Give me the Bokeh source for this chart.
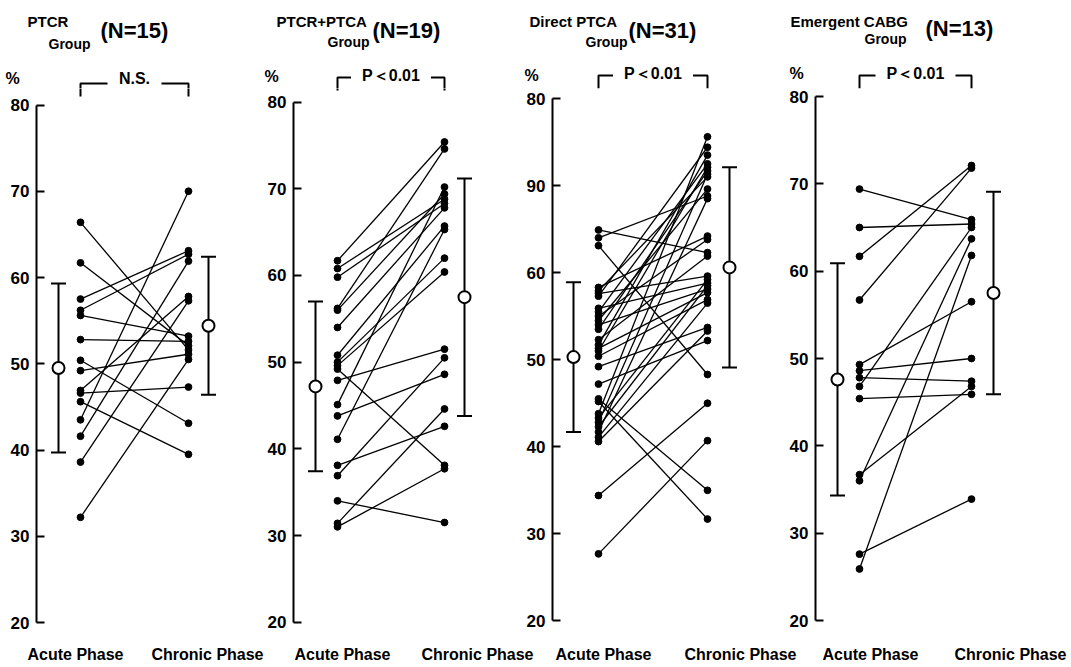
from bokeh.plotting import figure
from bokeh.layouts import row, column
from bokeh.models import Range1d, FixedTicker, Whisker, TeeHead, ColumnDataSource
from bokeh.embed import file_html
from bokeh.resources import INLINE
from bokeh.core.properties import value

# ---------------- data ----------------
group_names = ["PTCR", "PTCR+PTCA", "Direct PTCA", "Emergent CABG"]
group_word = "Group"
n_labels = ["(N=15)", "(N=19)", "(N=31)", "(N=13)"]
sig_labels = ["N.S.", "P＜0.01", "P＜0.01", "P＜0.01"]
phase_labels = ["Acute Phase", "Chronic Phase"]
y_label = "%"

tick_values = [20, 30, 40, 50, 60, 70, 80]
tick_labels = [
    ["20", "30", "40", "50", "60", "70", "80"],
    ["20", "30", "40", "50", "60", "70", "80"],
    ["20", "30", "40", "50", "60", "90", "80"],
    ["20", "30", "40", "50", "60", "70", "80"],
]

ptcr_acute = [66.4, 61.7, 57.5, 56.2, 55.6, 52.8, 50.4, 49.2, 46.9, 46.6, 45.6, 43.5, 41.6, 38.6, 32.2]
ptcr_chronic = [51.6, 52.1, 63.1, 62.7, 53.2, 52.6, 43.1, 51.1, 57.8, 47.3, 39.5, 70.0, 61.9, 57.3, 50.5]

ptca_acute = [61.7, 60.8, 59.8, 56.2, 56.0, 54.0, 50.8, 50.0, 49.6, 49.2, 47.9, 45.1, 43.8, 41.1,
              38.1, 36.9, 34.0, 31.4, 31.0]
ptca_chronic = [75.4, 68.8, 68.3, 74.6, 69.4, 67.8, 65.7, 62.0, 60.4, 38.1, 51.5, 70.2, 48.6, 65.3,
                42.6, 50.5, 31.5, 44.6, 37.7]

direct_acute = [64.9, 64.0, 63.1, 58.3, 57.9, 57.6, 57.3, 55.9, 55.5, 55.0, 54.5, 54.0, 53.5, 52.3,
                51.7, 51.3, 51.0, 50.4, 49.2, 47.2, 45.5, 45.2, 43.8, 43.3, 42.8, 42.3, 41.7, 41.1,
                40.6, 34.4, 27.7]
direct_chronic = [62.3, 68.8, 48.3, 64.2, 71.0, 59.6, 74.4, 58.8, 72.5, 63.8, 69.6, 58.1, 71.7, 61.9,
                  73.5, 57.7, 72.1, 56.9, 53.7, 52.2, 35.0, 31.7, 75.6, 59.2, 71.3, 58.5, 68.5, 56.5,
                  53.3, 45.0, 40.7]

cabg_acute = [69.4, 65.0, 61.7, 56.7, 49.3, 48.6, 47.8, 46.8, 45.4, 36.7, 36.0, 27.6, 25.9]
cabg_chronic = [65.9, 65.4, 72.1, 71.8, 56.5, 50.0, 47.4, 65.0, 45.9, 46.8, 63.7, 33.9, 61.8]

acute_mean = [49.5, 47.2, 50.3, 47.6]
acute_sd = [9.8, 9.8, 8.6, 13.3]
chronic_mean = [54.4, 57.5, 60.6, 57.5]
chronic_sd = [8.0, 13.7, 11.5, 11.6]

acute_sets = [ptcr_acute, ptca_acute, direct_acute, cabg_acute]
chronic_sets = [ptcr_chronic, ptca_chronic, direct_chronic, cabg_chronic]

# ---------------- layout (pixels, absolute in the 1071x667 window) ----------------
FONT = "Liberation Sans"
W = 1071
HEAD_H = 88
BODY_BOTTOM = 634
FOOT_H = 667 - BODY_BOTTOM
FIG_LEFT = [0, 262, 517, 785]
FIG_W = [262, 255, 268, 286]
AXIS_PX = [36, 293, 552, 815]
ACUTE_PX = [80, 337, 598, 859]
CHRONIC_PX = [188, 444, 707, 971]
BAR_L_PX = [58, 315, 573, 837]
BAR_R_PX = [208, 464, 729, 993]
Y80_PX = [104.5, 101.6, 98.0, 96.0]
Y20_PX = [622.0, 621.7, 620.4, 620.0]
NAME_POS = [(27, 21), (276, 21), (529, 21), (790, 21)]
GROUP_POS = [(48, 43), (327, 41), (585, 41), (864, 38)]
N_POS = [(100, 30), (372, 30), (628, 30), (925, 28)]
PCT_POS = [(5, 78), (264, 76), (524, 75), (789, 73)]
BRACKET_Y = [83, 77, 75, 75]
BRACKET_DROP = [96, 90, 88, 88]
SIG_Y = [78, 75, 73, 73]
SIG_HALF = [27, 40, 40, 40]
PHASE_X = [75, 207, 342, 477, 603, 740, 870, 1010]
PHASE_Y = 20


def bracket_xy(i, X, Y):
    a = ACUTE_PX[i]
    c = CHRONIC_PX[i]
    mid = (a + c) / 2.0
    g = SIG_HALF[i]
    xs = [[X(a), X(a), X(mid - g)], [X(mid + g), X(c), X(c)]]
    ys = [[Y(BRACKET_DROP[i]), Y(BRACKET_Y[i]), Y(BRACKET_Y[i])],
          [Y(BRACKET_Y[i]), Y(BRACKET_Y[i]), Y(BRACKET_DROP[i])]]
    return xs, ys


# ---------------- header strip: titles, %, significance ----------------
head = figure(width=W, height=HEAD_H, x_range=Range1d(0, W), y_range=Range1d(HEAD_H, 0),
              output_backend="svg", toolbar_location=None, x_axis_location=None,
              y_axis_location=None, min_border=0)
head.outline_line_color = None
head.grid.visible = False


def htext(xs, ys, texts, size, align="left"):
    head.text(x=xs, y=ys, text=texts, text_align=align, text_baseline="middle",
              text_font=value(FONT), text_font_style="bold", text_font_size=size,
              text_color="black")


htext([q[0] for q in NAME_POS], [q[1] for q in NAME_POS], group_names, "15px")
htext([q[0] for q in GROUP_POS], [q[1] for q in GROUP_POS], [group_word] * 4, "14px")
htext([q[0] for q in N_POS], [q[1] for q in N_POS], n_labels, "22px")
htext([q[0] for q in PCT_POS], [q[1] for q in PCT_POS], [y_label] * 4, "16px")
htext([(ACUTE_PX[i] + CHRONIC_PX[i]) / 2.0 for i in range(4)], SIG_Y, sig_labels, "16px",
      align="center")
for i in range(4):
    hx, hy = bracket_xy(i, lambda v: v, lambda v: v)
    head.multi_line(xs=hx, ys=hy, line_color="black", line_width=2)

# ---------------- panels ----------------
figs = []
for i in range(4):
    sp = CHRONIC_PX[i] - ACUTE_PX[i]
    dpp = 60.0 / (Y20_PX[i] - Y80_PX[i])

    def X(px, i=i, sp=sp):
        return (px - ACUTE_PX[i]) / sp

    def Y(py, i=i, dpp=dpp):
        return 80 - (py - Y80_PX[i]) * dpp

    p = figure(width=FIG_W[i], height=BODY_BOTTOM - HEAD_H,
               x_range=Range1d(X(AXIS_PX[i]), X(FIG_LEFT[i] + FIG_W[i])),
               y_range=Range1d(Y(BODY_BOTTOM), Y(HEAD_H)),
               output_backend="svg", toolbar_location=None, x_axis_location=None,
               min_border_left=AXIS_PX[i] - FIG_LEFT[i], min_border_right=0,
               min_border_top=0, min_border_bottom=0)
    p.outline_line_color = None
    p.grid.visible = False

    ax = p.yaxis[0]
    ax.ticker = FixedTicker(ticks=tick_values)
    ax.bounds = (20, 80)
    ax.major_label_overrides = {v: t for v, t in zip(tick_values, tick_labels[i])}
    ax.major_tick_in = 8
    ax.major_tick_out = 0
    ax.minor_tick_line_color = None
    ax.axis_line_width = 2
    ax.major_tick_line_width = 2
    ax.axis_line_color = "black"
    ax.major_tick_line_color = "black"
    ax.major_label_text_font = FONT
    ax.major_label_text_font_style = "bold"
    ax.major_label_text_font_size = "17px"
    ax.major_label_text_color = "black"
    ax.major_label_standoff = 7

    a = acute_sets[i]
    c = chronic_sets[i]
    n = len(a)
    pairs = ColumnDataSource(dict(xs=[[0, 1]] * n, ys=[[a[k], c[k]] for k in range(n)]))
    p.multi_line(xs="xs", ys="ys", source=pairs, line_color="black", line_width=1.3)
    p.scatter(x=[0] * n, y=a, size=6.8, color="black")
    p.scatter(x=[1] * n, y=c, size=6.8, color="black")

    means = [acute_mean[i], chronic_mean[i]]
    sds = [acute_sd[i], chronic_sd[i]]
    bsrc = ColumnDataSource(dict(x=[X(BAR_L_PX[i]), X(BAR_R_PX[i])], m=means,
                                 upper=[m + s for m, s in zip(means, sds)],
                                 lower=[m - s for m, s in zip(means, sds)]))
    p.add_layout(Whisker(base="x", upper="upper", lower="lower", source=bsrc, dimension="height",
                         line_width=2, line_color="black",
                         upper_head=TeeHead(size=15, line_width=2, line_color="black"),
                         lower_head=TeeHead(size=15, line_width=2, line_color="black")))
    p.scatter(x="x", y="m", source=bsrc, size=12, fill_color="white", line_color="black",
              line_width=2)

    # lower part of the significance bracket (upper part is in the header strip)
    bx, by = bracket_xy(i, X, Y)
    p.multi_line(xs=bx, ys=by, line_color="black", line_width=2)

    figs.append(p)

# ---------------- footer strip: phase labels ----------------
foot = figure(width=W, height=FOOT_H, x_range=Range1d(0, W), y_range=Range1d(FOOT_H, 0),
              output_backend="svg", toolbar_location=None, x_axis_location=None,
              y_axis_location=None, min_border=0)
foot.outline_line_color = None
foot.grid.visible = False
foot.text(x=PHASE_X, y=[PHASE_Y] * 8, text=phase_labels * 4, text_align="center",
          text_baseline="middle", text_font=value(FONT), text_font_style="bold",
          text_font_size="16px", text_color="black")

layout = column(head, row(*figs, spacing=0), foot, spacing=0)
open("out.html", "w").write(file_html(layout, INLINE))
